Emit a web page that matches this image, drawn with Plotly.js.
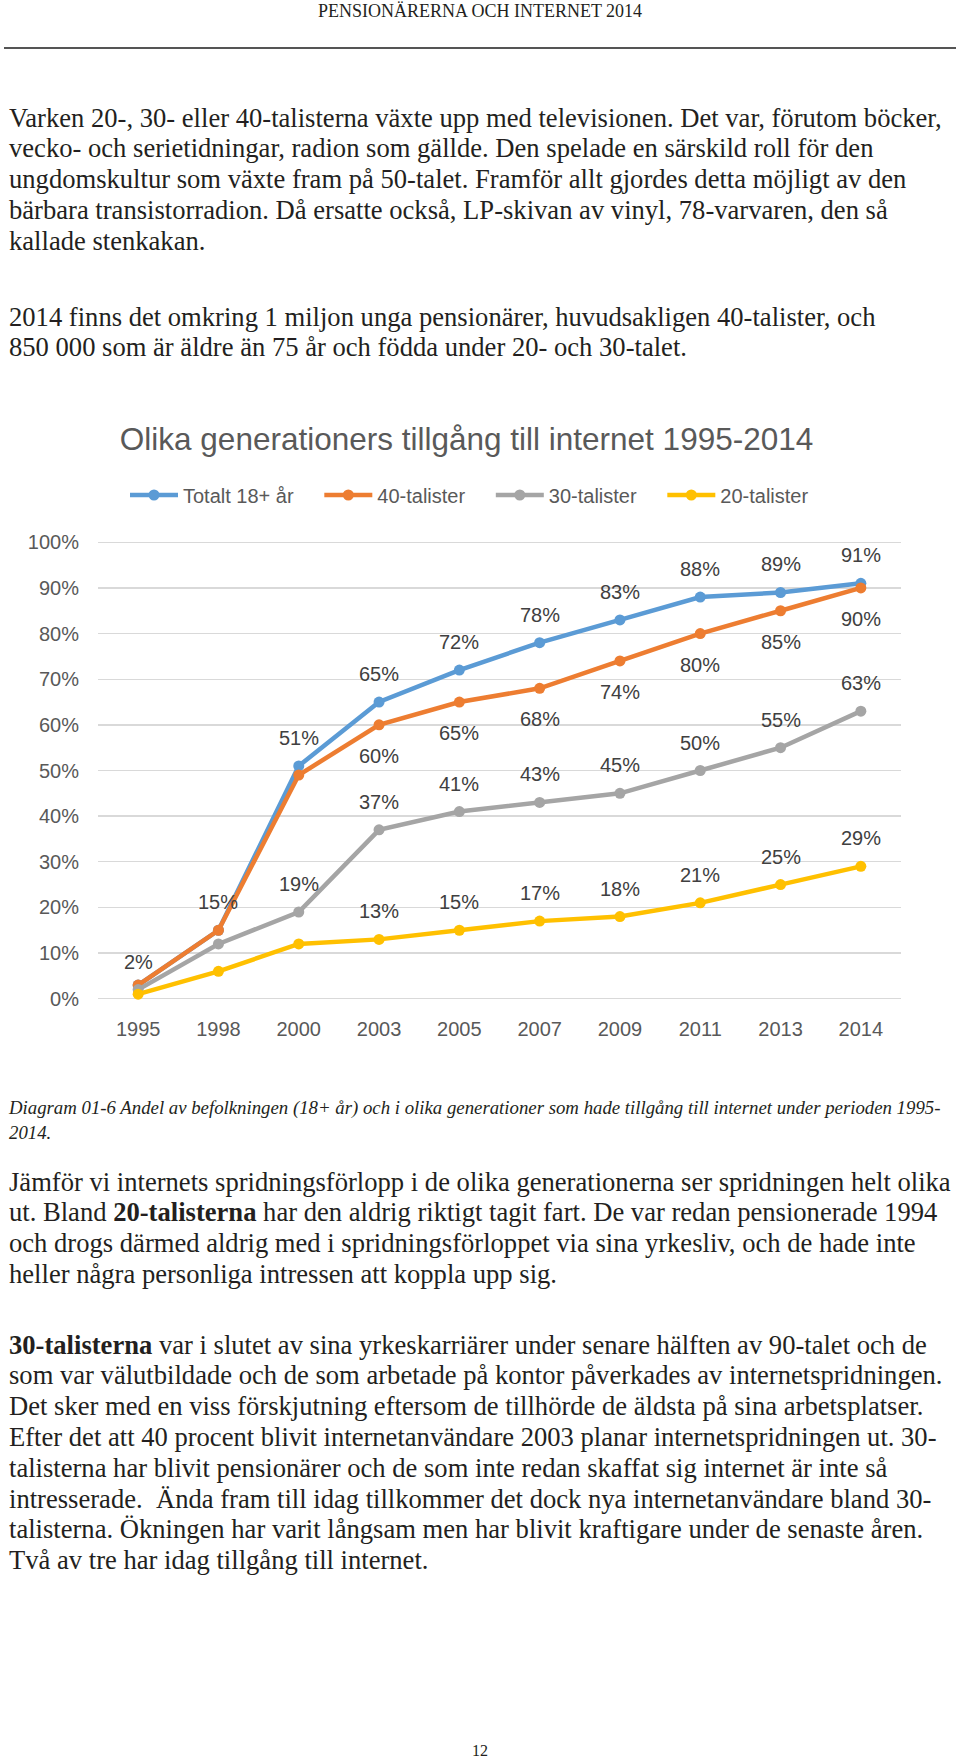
<!DOCTYPE html>
<html><head><meta charset="utf-8">
<script src="https://cdn.plot.ly/plotly-3.0.1.min.js"></script>
<style>
body{margin:0;width:960px;height:1760px;position:relative;background:#fff;font-family:"Liberation Serif",serif;color:#231f20;overflow:hidden;}
.hdr{position:absolute;left:0;width:960px;top:1px;text-align:center;font-size:18px;}
.rule{position:absolute;left:4px;width:952px;top:47px;height:2px;background:#555;}
.p{position:absolute;left:9px;font-size:26.6px;line-height:30.8px;white-space:nowrap;}
.cap{position:absolute;left:9px;font-style:italic;font-size:18.8px;line-height:25px;white-space:nowrap;}
#chart{position:absolute;left:0;top:380px;width:960px;height:680px;}
.pg{position:absolute;left:0;width:960px;top:1742px;text-align:center;font-size:16px;}
</style></head>
<body>
<div class="hdr">PENSIONÄRERNA OCH INTERNET 2014</div>
<div class="rule"></div>
<div class="p" style="top:102.5px">Varken 20-, 30- eller 40-talisterna växte upp med televisionen. Det var, förutom böcker,<br>vecko- och serietidningar, radion som gällde. Den spelade en särskild roll för den<br>ungdomskultur som växte fram på 50-talet. Framför allt gjordes detta möjligt av den<br>bärbara transistorradion. Då ersatte också, LP-skivan av vinyl, 78-varvaren, den så<br>kallade stenkakan.</div>
<div class="p" style="top:301.5px">2014 finns det omkring 1 miljon unga pensionärer, huvudsakligen 40-talister, och<br>850 000 som är äldre än 75 år och födda under 20- och 30-talet.</div>
<div id="chart"></div>
<div class="cap" style="top:1094.5px">Diagram 01-6 Andel av befolkningen (18+ år) och i olika generationer som hade tillgång till internet under perioden 1995-<br>2014.</div>
<div class="p" style="top:1166.5px">Jämför vi internets spridningsförlopp i de olika generationerna ser spridningen helt olika<br>ut. Bland <b>20-talisterna</b> har den aldrig riktigt tagit fart. De var redan pensionerade 1994<br>och drogs därmed aldrig med i spridningsförloppet via sina yrkesliv, och de hade inte<br>heller några personliga intressen att koppla upp sig.</div>
<div class="p" style="top:1329.6px"><b>30-talisterna</b> var i slutet av sina yrkeskarriärer under senare hälften av 90-talet och de<br>som var välutbildade och de som arbetade på kontor påverkades av internetspridningen.<br>Det sker med en viss förskjutning eftersom de tillhörde de äldsta på sina arbetsplatser.<br>Efter det att 40 procent blivit internetanvändare 2003 planar internetspridningen ut. 30-<br>talisterna har blivit pensionärer och de som inte redan skaffat sig internet är inte så<br>intresserade.&nbsp; Ända fram till idag tillkommer det dock nya internetanvändare bland 30-<br>talisterna. Ökningen har varit långsam men har blivit kraftigare under de senaste åren.<br>Två av tre har idag tillgång till internet.</div>
<div class="pg">12</div>
<script>
const years = ['1995','1998','2000','2003','2005','2007','2009','2011','2013','2014'];
const seriesNames = ['Totalt 18+ år','40-talister','30-talister','20-talister'];
const totalt = [3,15,51,65,72,78,83,88,89,91];
const tal40 = [3,15,49,60,65,68,74,80,85,90];
const tal30 = [2,12,19,37,41,43,45,50,55,63];
const tal20 = [1,6,12,13,15,17,18,21,25,29];
const showTotalt = [0,1,1,1,1,1,1,1,1,1];
const show40 = [0,0,0,1,1,1,1,1,1,1];
const show30 = [1,0,1,1,1,1,1,1,1,1];
const show20 = [0,0,0,1,1,1,1,1,1,1];
const yTicks = [0,10,20,30,40,50,60,70,80,90,100];

const colors = ['#5B9BD5','#ED7D31','#A5A5A5','#FFC000'];
const values = [totalt, tal40, tal30, tal20];
const shows = [showTotalt, show40, show30, show20];
const labelShift = [28, -31, 28, 28];
const sans = '"Liberation Sans", Arial, sans-serif';
const pad = '\u00A0\u00A0\u00A0\u2009';

const traces = values.map((v, k) => ({
  type: 'scatter', mode: 'lines+markers',
  name: seriesNames[k] + (k < values.length - 1 ? pad : ''),
  x: years, y: v,
  line: {color: colors[k], width: 4.5},
  marker: {color: colors[k], size: 11},
  hoverinfo: 'skip'
}));

const annotations = [];
values.forEach((v, k) => {
  v.forEach((val, i) => {
    if (shows[k][i]) annotations.push({
      x: i, y: val, xref: 'x', yref: 'y', text: val + '%',
      showarrow: false, yshift: labelShift[k],
      font: {family: sans, size: 20, color: '#404040'}
    });
  });
});

const layout = {
  width: 960, height: 680,
  margin: {l: 98, r: 59, t: 160, b: 59},
  paper_bgcolor: '#fff', plot_bgcolor: '#fff',
  font: {family: sans, size: 20, color: '#595959'},
  title: {text: 'Olika generationers tillgång till internet 1995-2014',
    font: {family: sans, size: 31.5, color: '#595959'},
    x: 0.486, xref: 'container', xanchor: 'center',
    y: 1 - 59/680, yref: 'container', yanchor: 'middle'},
  showlegend: true,
  legend: {orientation: 'h', x: 125/960, xref: 'container', xanchor: 'left',
    y: 1 - 115/680, yref: 'container', yanchor: 'middle',
    itemwidth: 48, font: {family: sans, size: 20, color: '#595959'},
    traceorder: 'normal', bgcolor: 'rgba(0,0,0,0)'},
  xaxis: {type: 'category', range: [-0.5, 9.5], showgrid: false, zeroline: false,
    showline: false, ticks: '', ticklabelstandoff: 14,
    tickfont: {family: sans, size: 20, color: '#595959'}, fixedrange: true},
  yaxis: {range: [-0.5, 100.5], tickmode: 'array', tickvals: yTicks,
    ticktext: yTicks.map(t => t + '%'), showgrid: true,
    gridcolor: '#D9D9D9', gridwidth: 1.3, zeroline: false, showline: false,
    ticks: '', ticklabelstandoff: 18,
    tickfont: {family: sans, size: 20, color: '#595959'}, fixedrange: true},
  annotations: annotations
};

Plotly.newPlot('chart', traces, layout, {displayModeBar: false, staticPlot: true});
</script>
</body></html>
